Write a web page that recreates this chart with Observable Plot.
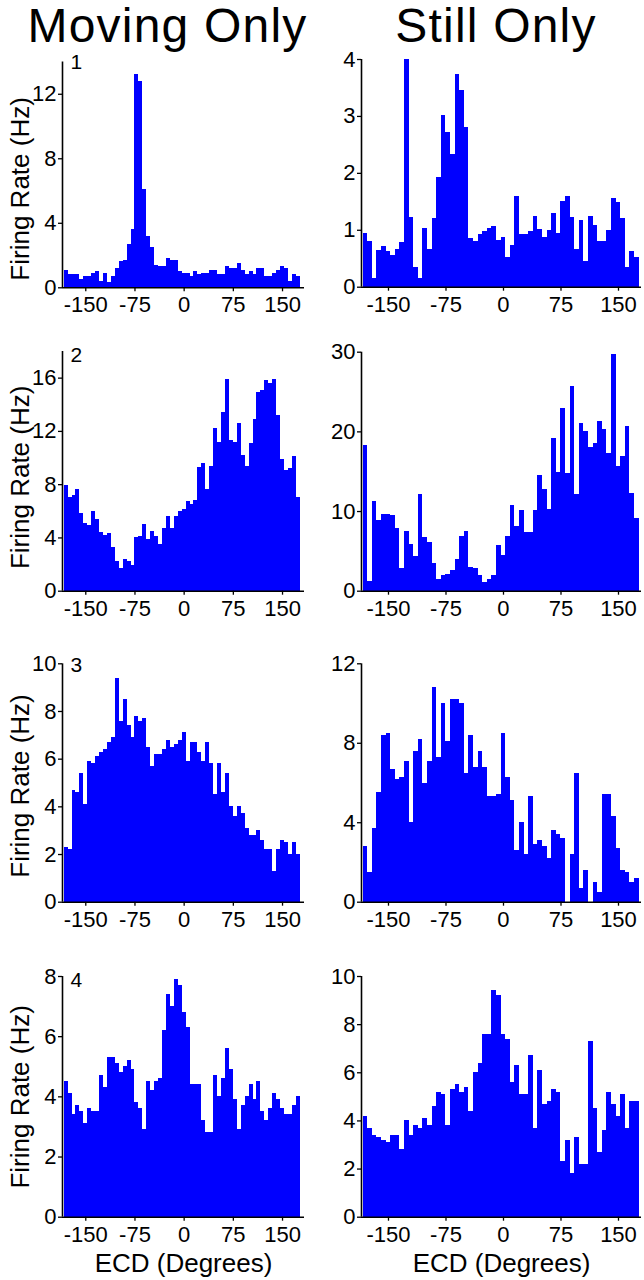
<!DOCTYPE html>
<html>
<head>
<meta charset="utf-8">
<script src="https://cdn.jsdelivr.net/npm/d3@7"></script>
<script src="https://cdn.jsdelivr.net/npm/@observablehq/plot@0.6"></script>
<style>
  body { margin: 0; background: #ffffff; }
  #wrap { position: relative; width: 644px; height: 1280px; overflow: hidden; background: #fff;
          font-family: "Liberation Sans", Arial, Helvetica, sans-serif; }
  .title { position: absolute; top: 3px; font-size: 48px; line-height: 46px; color: #000; letter-spacing: 1.2px;
           transform: translateX(-50%); white-space: nowrap; }
  .panel { position: absolute; }
  .panel svg { display: block; }
</style>
</head>
<body>
<div id="wrap"></div>
<script>
// ---- data -------------------------------------------------------------
// 60 bins of 6 degrees, centred on -180, -174, ..., 174
const binCenters = d3.range(60).map(i => -180 + 6 * i);
const binWidth = 6;
const xTicks = [-150, -75, 0, 75, 150];
const columnTitles = ["Moving Only", "Still Only"];
const cellLabels = ["1", "2", "3", "4"];
const yAxisLabel = "Firing Rate (Hz)";
const xAxisLabel = "ECD (Degrees)";

const movingCell1 = [1.1,0.8,0.8,0.8,0.5, 0.7,0.7,0.9,1.0,0.4, 0.9,0.3,0.7,1.2,1.6, 1.7,2.7,3.6,13.2,12.8,
  6.1,3.2,2.5,1.4,1.3, 1.3,1.8,1.7,1.7,1.0, 0.9,0.9,0.7,1.0,0.8, 0.9,0.9,1.1,1.1,0.8,
  0.8,1.3,1.2,1.2,1.5, 1.1,0.8,1.0,0.8,1.2, 1.2,0.7,0.7,0.9,1.1, 1.3,1.2,0.4,0.8,0.7];
const stillCell1 = [0.95,0.8,0.15,0.65,0.72, 0.63,0.55,0.67,0.78,4.0, 1.22,0.35,0.15,1.03,0.67, 1.2,1.93,3.02,2.72,2.33,
  3.73,3.45,2.8,0.85,0.8, 0.93,0.97,1.03,1.07,0.82, 0.87,0.53,0.73,1.6,0.93, 0.93,0.97,1.25,1.02,0.88,
  1.0,1.3,0.95,1.5,1.6, 1.22,0.67,1.18,0.45,1.25, 1.08,0.8,0.8,1.0,1.55, 1.48,1.2,0.35,0.63,0.52];
const movingCell2 = [7.9,7.0,7.2,7.6,5.8, 5.1,4.9,6.0,5.4,4.4, 4.2,4.3,3.3,2.2,1.7, 2.4,2.2,1.9,4.0,4.1,
  5.0,3.9,4.5,4.1,3.5, 4.7,5.6,4.7,5.6,6.0, 6.1,6.7,6.5,6.8,9.3, 9.6,7.6,9.4,12.2,11.2,
  13.4,15.9,11.3,11.2,12.6, 10.2,9.4,11.1,12.9,14.9, 15.1,15.8,15.6,15.9,13.2, 9.9,9.1,9.2,10.1,7.0];
const stillCell2 = [18.3,1.2,11.2,8.9,9.6, 9.6,9.5,7.9,2.9,7.5, 5.9,4.4,12.1,6.8,6.1, 3.5,1.5,2.0,2.1,2.6,
  4.0,6.9,7.5,3.0,2.8, 2.0,1.1,1.5,2.0,5.7, 4.5,6.9,10.7,8.1,10.1, 7.4,7.4,10.1,14.5,12.8,
  10.2,19.2,14.9,22.9,14.8, 25.7,12.2,21.0,20.0,18.0, 18.5,21.3,20.3,17.3,29.7, 15.7,16.9,20.7,12.3,9.1];
const movingCell3 = [2.3,2.2,4.7,4.6,5.4, 4.1,5.9,5.8,6.1,6.3, 6.4,6.7,6.9,9.4,7.6, 8.5,7.4,6.9,7.8,7.6,
  7.7,6.5,5.7,6.2,6.2, 6.4,6.8,6.5,6.6,6.8, 7.1,5.9,6.7,6.7,6.3, 5.9,6.7,5.8,4.5,5.8,
  4.6,5.4,4.0,3.6,4.0, 3.7,3.1,2.8,2.8,3.0, 2.6,2.2,2.2,1.3,2.2, 2.6,2.5,2.0,2.5,2.0];
const stillCell3 = [2.8,1.5,3.7,5.5,8.4, 8.5,6.7,6.2,6.3,7.1, 4.0,7.6,8.2,6.0,7.1, 10.8,7.3,10.0,8.1,10.2,
  10.2,10.0,6.5,8.4,6.8, 7.6,6.8,5.3,5.3,5.4, 8.5,6.3,5.1,2.6,4.0, 2.4,5.3,2.9,3.1,2.8,
  2.2,3.6,3.4,3.2,0, 2.4,6.5,0.7,1.6,0, 1.0,0.5,5.4,5.4,4.3, 2.7,1.6,1.5,1.0,1.2];
const movingCell4 = [4.5,4.1,3.4,3.7,3.5, 3.1,3.6,3.5,3.5,4.7, 4.3,5.3,5.3,5.1,4.8, 5.0,5.2,4.9,3.8,3.6,
  2.9,4.5,4.2,4.5,4.6, 6.2,7.4,7.0,7.9,7.7, 6.8,6.3,4.4,4.4,4.4, 3.2,2.8,2.8,4.7,4.0,
  4.6,5.6,4.9,3.9,2.9, 3.7,4.0,4.4,3.9,4.5, 3.5,3.2,3.6,4.1,3.9, 3.6,3.4,3.4,3.7,4.0];
const stillCell4 = [4.2,3.7,3.4,3.3,3.2, 3.1,3.4,3.4,2.8,4.0, 3.4,3.8,3.7,4.1,3.8, 4.6,5.2,5.1,3.8,5.3,
  5.5,5.2,5.4,4.4,6.0, 6.4,7.6,7.6,9.4,9.2, 7.6,7.4,5.6,6.3,5.1, 5.1,6.7,3.7,6.1,4.7,
  4.8,5.3,5.2,2.3,3.2, 1.8,3.3,2.2,2.2,7.3, 4.5,2.7,3.6,5.2,4.7, 4.2,5.1,3.7,4.8,4.8];

const yTicksMoving1 = [0, 4, 8, 12];
const yTicksStill1 = [0, 1, 2, 3, 4];
const yTicksMoving2 = [0, 4, 8, 12, 16];
const yTicksStill2 = [0, 10, 20, 30];
const yTicksMoving3 = [0, 2, 4, 6, 8, 10];
const yTicksStill3 = [0, 4, 8, 12];
const yTicksMoving4 = [0, 2, 4, 6, 8];
const yTicksStill4 = [0, 2, 4, 6, 8, 10];

// ---- layout -------------------------------------------------------------
const columns = [
  { left: 0,   width: 320, frameLeft: 62,  frameRight: 304, xDomain: [-185.5, 183.5], titleCenter: 167.5 },
  { left: 320, width: 324, frameLeft: 361, frameRight: 641, xDomain: [-185.2, 180],   titleCenter: 496 }
];
const rows = [
  { svgTop: 42,  bottomPad: 42 },
  { svgTop: 335, bottomPad: 42 },
  { svgTop: 645, bottomPad: 42 },
  { svgTop: 955, bottomPad: 1280 - 1217 }
];

const panels = [
  { row: 0, col: 0, values: movingCell1, yMax: 14, yTicks: yTicksMoving1, top: 61.5, bottom: 287.3, cell: 0 },
  { row: 0, col: 1, values: stillCell1,  yMax: 4,  yTicks: yTicksStill1,  top: 59,   bottom: 286.7 },
  { row: 1, col: 0, values: movingCell2, yMax: 18, yTicks: yTicksMoving2, top: 351,  bottom: 590.7, cell: 1 },
  { row: 1, col: 1, values: stillCell2,  yMax: 30, yTicks: yTicksStill2,  top: 351.7, bottom: 590.7 },
  { row: 2, col: 0, values: movingCell3, yMax: 10, yTicks: yTicksMoving3, top: 663.3, bottom: 901.7, cell: 2 },
  { row: 2, col: 1, values: stillCell3,  yMax: 12, yTicks: yTicksStill3,  top: 663.3, bottom: 901.7 },
  { row: 3, col: 0, values: movingCell4, yMax: 8,  yTicks: yTicksMoving4, top: 976,  bottom: 1216.7, cell: 3 },
  { row: 3, col: 1, values: stillCell4,  yMax: 10, yTicks: yTicksStill4,  top: 976,  bottom: 1216.7 }
];
const cellLabelDy = [-7.5, -4.5, -6.5, -4.5];
const yLabelShift = [14, 6, 3, 0];

const wrap = document.getElementById("wrap");

columnTitles.forEach((t, i) => {
  const d = document.createElement("div");
  d.className = "title";
  d.textContent = t;
  d.style.left = columns[i].titleCenter + "px";
  wrap.appendChild(d);
});

const FONT = "Liberation Sans, Arial, Helvetica, sans-serif";
const fmt = d => (d < 0 ? "-" + Math.abs(d) : String(d));

panels.forEach(p => {
  const C = columns[p.col];
  const R = rows[p.row];
  const data = binCenters.map((c, i) => ({ x1: c - binWidth / 2, x2: c + binWidth / 2, y: p.values[i] }));
  const marginTop = p.top - R.svgTop;
  const height = Math.round(p.bottom - R.svgTop + R.bottomPad);
  const marginBottom = height - (p.bottom - R.svgTop);
  const marks = [
    Plot.rectY(data, { x1: "x1", x2: "x2", y1: 0, y2: "y", fill: "#0000ff", inset: 0, shapeRendering: "crispEdges" }),
    Plot.ruleY([0], { stroke: "#000", strokeWidth: 1.6 }),
    Plot.ruleX([C.xDomain[0]], { stroke: "#000", strokeWidth: 1.6 }),
    Plot.axisX({ ticks: xTicks, tickFormat: fmt, tickSize: 4, tickPadding: 5, label: null, fontSize: 22, stroke: "#000", strokeWidth: 1.3 }),
    Plot.axisY({ ticks: p.yTicks, tickFormat: fmt, tickSize: 4, tickPadding: 2, label: null, fontSize: 22, stroke: "#000", strokeWidth: 1.3 })
  ];
  if (p.col === 0) {
    // dx/dy are screen offsets; text is rotated about its anchor
    marks.push(Plot.text([yAxisLabel], {
      frameAnchor: "left", rotate: -90, textAnchor: "middle", lineAnchor: "middle",
      dx: -42, dy: yLabelShift[p.row], fontSize: 26, fill: "#000"
    }));
    marks.push(Plot.text([cellLabels[p.cell]], {
      x: () => C.xDomain[0], y: () => p.yMax, dx: 8, dy: cellLabelDy[p.row],
      textAnchor: "start", lineAnchor: "top", fontSize: 21, fill: "#000"
    }));
  }
  if (p.row === 3) {
    marks.push(Plot.text([xAxisLabel], { frameAnchor: "bottom", dy: 46, lineAnchor: "middle", fontSize: 26, fill: "#000" }));
  }
  const chart = Plot.plot({
    width: C.width,
    height,
    marginLeft: C.frameLeft - C.left,
    marginRight: C.left + C.width - C.frameRight,
    marginTop,
    marginBottom,
    x: { domain: C.xDomain },
    y: { domain: [0, p.yMax] },
    style: { fontFamily: FONT, fontSize: "22px", color: "#000", background: "transparent", overflow: "visible" },
    marks
  });
  const div = document.createElement("div");
  div.className = "panel";
  div.style.left = C.left + "px";
  div.style.top = R.svgTop + "px";
  div.style.width = C.width + "px";
  div.appendChild(chart);
  wrap.appendChild(div);
});
</script>
</body>
</html>
